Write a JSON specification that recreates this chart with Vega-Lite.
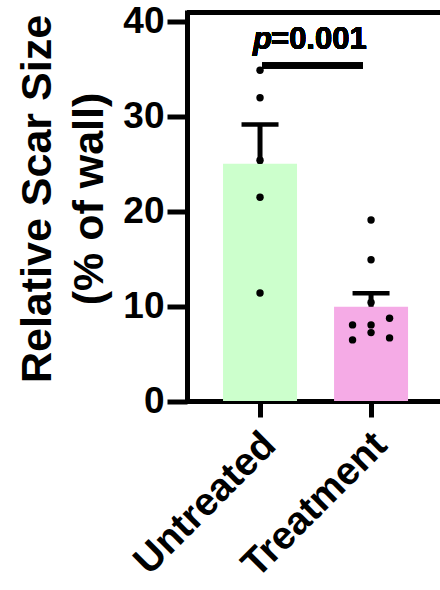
{
  "$schema": "https://vega.github.io/schema/vega-lite/v6.json",
  "width": 253,
  "height": 388.5,
  "autosize": {"type": "none"},
  "padding": {"left": 187, "top": 12.5, "right": 0, "bottom": 189},
  "background": "white",
  "config": {"view": {"stroke": null}, "font": "Liberation Sans"},
  "data": {
    "values": [
      {"group": "Untreated", "value": 34.9, "lane": "C"},
      {"group": "Untreated", "value": 32.0, "lane": "C"},
      {"group": "Untreated", "value": 25.4, "lane": "C"},
      {"group": "Untreated", "value": 21.5, "lane": "C"},
      {"group": "Untreated", "value": 11.4, "lane": "C"},
      {"group": "Treatment", "value": 19.1, "lane": "C"},
      {"group": "Treatment", "value": 14.9, "lane": "C"},
      {"group": "Treatment", "value": 10.4, "lane": "C"},
      {"group": "Treatment", "value": 8.74, "lane": "R"},
      {"group": "Treatment", "value": 8.03, "lane": "L"},
      {"group": "Treatment", "value": 8.03, "lane": "C"},
      {"group": "Treatment", "value": 7.22, "lane": "C"},
      {"group": "Treatment", "value": 6.45, "lane": "L"},
      {"group": "Treatment", "value": 6.66, "lane": "R"}
    ]
  },
  "resolve": {"scale": {"xOffset": "independent"}},
  "layer": [
    {
      "mark": {"type": "errorbar", "extent": "stderr", "color": "black", "opacity": 1, "thickness": 5, "rule": {"color": "black", "opacity": 1, "strokeWidth": 5}, "ticks": {"size": 37, "thickness": 4.5, "color": "black", "opacity": 1}},
      "encoding": {
        "x": {"field": "group", "type": "nominal", "sort": ["Untreated", "Treatment"],
          "scale": {"paddingInner": 0.3333, "paddingOuter": 0.306, "align": 0.53},
          "axis": {"title": null, "labelAngle": -45, "labelFontSize": 39, "labelFontWeight": "bold", "labelColor": "black", "labelLimit": 400, "labelOffset": -4, "tickSize": 16, "tickWidth": 5, "tickColor": "black", "domainWidth": 5, "domainColor": "black", "labelPadding": 8}},
        "y": {"field": "value", "type": "quantitative",
          "scale": {"domain": [0, 41], "nice": false},
          "axis": {"title": ["Relative Scar Size", "(% of wall)"], "values": [0, 10, 20, 30, 40], "grid": false, "domainWidth": 5, "domainColor": "black", "domainCap": "square", "tickColor": "black", "tickWidth": 5, "tickSize": 20, "labelFontSize": 37, "labelFontWeight": "bold", "labelColor": "black", "labelPadding": 3, "titleFontSize": 43, "titleFontWeight": "bold", "titleColor": "black", "titlePadding": 11, "titleLineHeight": 52, "titleY": 186}}
      }
    },
    {
      "mark": {"type": "bar", "width": 74},
      "encoding": {
        "x": {"field": "group", "type": "nominal", "sort": ["Untreated", "Treatment"]},
        "y": {"field": "value", "type": "quantitative", "aggregate": "mean"},
        "color": {"field": "group", "type": "nominal", "scale": {"domain": ["Untreated", "Treatment"], "range": ["#ccffcc", "#f5abe6"]}, "legend": null}
      }
    },
    {
      "mark": {"type": "point", "filled": true, "color": "black", "opacity": 1, "size": 55},
      "encoding": {
        "x": {"field": "group", "type": "nominal", "sort": ["Untreated", "Treatment"]},
        "xOffset": {"field": "lane", "type": "nominal", "scale": {"type": "point", "domain": ["L", "C", "R"], "padding": 1.387}},
        "y": {"field": "value", "type": "quantitative"}
      }
    },
    {
      "mark": {"type": "rule", "color": "black", "strokeWidth": 5},
      "encoding": {"y": {"datum": 41}}
    },
    {
      "mark": {"type": "rule", "color": "black", "strokeWidth": 5.5},
      "encoding": {
        "x": {"datum": "Untreated", "bandPosition": 0.53},
        "x2": {"datum": "Treatment", "bandPosition": 0.39},
        "y": {"datum": 35.4}
      }
    },
    {
      "mark": {"type": "text", "text": "p", "align": "left", "baseline": "alphabetic", "dx": -7, "fontSize": 31, "fontWeight": "bold", "fontStyle": "italic", "color": "black"},
      "encoding": {"x": {"datum": "Untreated", "bandPosition": 0.5}, "y": {"datum": 37.1}}
    },
    {
      "mark": {"type": "text", "text": "=0.001", "align": "left", "baseline": "alphabetic", "dx": 11, "fontSize": 31, "fontWeight": "bold", "color": "black"},
      "encoding": {"x": {"datum": "Untreated", "bandPosition": 0.5}, "y": {"datum": 37.1}}
    }
  ]
}
